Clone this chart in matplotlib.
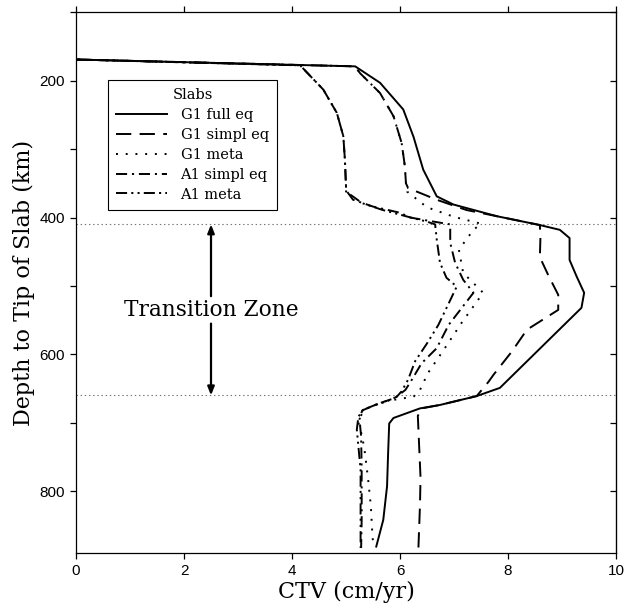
import matplotlib
matplotlib.use("Agg")
import matplotlib.pyplot as plt
from matplotlib.patches import FancyArrowPatch
from matplotlib.ticker import MultipleLocator, FuncFormatter

plt.rcParams['lines.scale_dashes'] = False

# CTV (cm/yr) versus depth to tip of slab (km)
g1_full_depth = [100, 169, 179, 203, 242, 282, 330, 369, 381, 398, 411, 418, 430,
                 462, 486, 510, 532, 649, 661, 674, 679, 693, 701, 744, 793, 842, 881]
g1_full_ctv = [0, 0, 5.17, 5.63, 6.06, 6.25, 6.43, 6.68, 6.99, 7.79, 8.59, 8.96, 9.14,
               9.14, 9.27, 9.41, 9.36, 7.85, 7.42, 6.74, 6.37, 5.88, 5.80, 5.78, 5.76, 5.69, 5.56]

g1_simpl_depth = [100, 169, 179, 189, 218, 252, 291, 325, 350, 357, 364, 374, 389, 398,
                  411, 430, 458, 485, 513, 535, 564, 596, 630, 640, 661, 674, 679, 690,
                  744, 780, 820, 885]
g1_simpl_ctv = [0, 0, 5.17, 5.26, 5.63, 5.88, 6.03, 6.09, 6.11, 6.15, 6.37, 6.68, 7.23, 7.79,
                8.59, 8.60, 8.59, 8.75, 8.93, 8.93, 8.35, 8.07, 7.73, 7.64, 7.42, 6.74, 6.40, 6.33,
                6.36, 6.38, 6.37, 6.34]

g1_meta_depth = [100, 169, 179, 189, 218, 252, 291, 325, 350, 362, 385, 399, 409, 418,
                 447, 481, 510, 554, 591, 627, 652, 662, 665, 669, 680, 697, 720, 744,
                 783, 822, 866, 881]
g1_meta_ctv = [0, 0, 5.17, 5.26, 5.63, 5.88, 6.03, 6.09, 6.11, 6.13, 6.50, 7.00, 7.50, 7.36,
               7.09, 7.17, 7.54, 7.14, 6.83, 6.52, 6.37, 6.25, 6.00, 5.70, 5.35, 5.22, 5.30, 5.35,
               5.41, 5.46, 5.49, 5.51]

a1_simpl_depth = [100, 169, 177.5, 213, 247, 281, 316, 355, 360, 374, 384, 393, 400, 405,
                  410, 437, 466, 491, 510, 557, 591, 613, 637, 652, 664, 672, 682, 695,
                  720, 769, 842, 883]
a1_simpl_ctv = [0, 0, 4.15, 4.58, 4.83, 4.95, 4.98, 5.00, 5.00, 5.13, 5.50, 6.00, 6.19, 6.55,
                6.93, 6.93, 7.02, 7.17, 7.36, 6.90, 6.68, 6.40, 6.22, 6.10, 5.90, 5.60, 5.30, 5.25,
                5.28, 5.29, 5.29, 5.28]

a1_meta_depth = [100, 169, 177.5, 213, 247, 281, 316, 355, 362, 379, 389, 400, 406, 410,
                 432, 466, 488, 501, 557, 584, 610, 637, 654, 662, 669, 674, 681, 691,
                 710, 735, 769, 842, 883]
a1_meta_ctv = [0, 0, 4.15, 4.58, 4.83, 4.95, 4.98, 5.00, 5.00, 5.30, 5.68, 6.20, 6.50, 6.65,
               6.68, 6.74, 6.86, 7.05, 6.71, 6.50, 6.28, 6.15, 6.03, 5.94, 5.75, 5.54, 5.32, 5.23,
               5.20, 5.23, 5.27, 5.27, 5.27]

tz_top = 410
tz_bottom = 660

serif = 'DejaVu Serif'
sans = 'Liberation Sans'

fig = plt.figure(figsize=(6.24, 6.10), dpi=100)
ax = fig.add_axes([0.1218, 0.0939, 0.8654, 0.8859])

lw = 1.4
ax.plot(g1_full_ctv, g1_full_depth, color='black', lw=lw, label='G1 full eq')
ax.plot(g1_simpl_ctv, g1_simpl_depth, color='black', lw=lw, dashes=(11, 6), label='G1 simpl eq')
ax.plot(g1_meta_ctv, g1_meta_depth, color='black', lw=lw, dashes=(1.4, 5.6), label='G1 meta')
ax.plot(a1_simpl_ctv, a1_simpl_depth, color='black', lw=lw, dashes=(8, 3.5, 1.5, 3.5), label='A1 simpl eq')
ax.plot(a1_meta_ctv, a1_meta_depth, color='black', lw=lw, dashes=(8, 3, 1.5, 3, 1.5, 3), label='A1 meta')

# transition zone boundaries
for d in (tz_top, tz_bottom):
    ax.axhline(d, color='0.45', lw=0.8, ls=(0, (1, 2)), zorder=0)

ax.text(2.5, 535, 'Transition Zone', ha='center', va='center', fontsize=15.6, family=serif)
for y0, y1 in ((515, tz_top), (555, tz_bottom)):
    arr = FancyArrowPatch((2.5, y0), (2.5, y1), arrowstyle='-|>,head_width=0.2,head_length=0.5',
                          mutation_scale=10, lw=1.6, color='black', shrinkA=0, shrinkB=0)
    ax.add_patch(arr)

ax.set_xlim(0, 10)
ax.set_ylim(890, 100)
ax.xaxis.set_major_locator(MultipleLocator(2))
ax.yaxis.set_major_locator(MultipleLocator(100))
ax.yaxis.set_major_formatter(FuncFormatter(lambda v, p: f"{int(v)}" if int(v) % 200 == 0 else ""))

ax.tick_params(axis='both', which='major', labelsize=11, length=4.5, width=0.9, color='black')
ax.tick_params(axis='x', top=True, direction='out')
ax.tick_params(axis='y', left=True, direction='out')
for lab in ax.get_xticklabels() + ax.get_yticklabels():
    lab.set_family(sans)

# right side ticks point inward
sec = ax.secondary_yaxis('right')
sec.yaxis.set_major_locator(MultipleLocator(100))
sec.tick_params(direction='in', length=4.5, width=0.9, labelright=False)

for sp in ax.spines.values():
    sp.set_linewidth(0.9)

ax.set_xlabel('CTV (cm/yr)', fontsize=16, family=serif, labelpad=2)
ax.set_ylabel('Depth to Tip of Slab (km)', fontsize=16, family=serif, labelpad=3)

leg = ax.legend(title='Slabs', loc='upper left', bbox_to_anchor=(0.06, 0.874),
                prop={'family': serif, 'size': 10.5}, title_fontproperties={'family': serif, 'size': 10.5},
                frameon=True, fancybox=False, edgecolor='black', framealpha=1,
                handlelength=3.5, handletextpad=0.9, labelspacing=0.4, borderaxespad=0,
                borderpad=0.55)
leg.get_frame().set_linewidth(0.8)

fig.savefig('out.png', dpi=100)
